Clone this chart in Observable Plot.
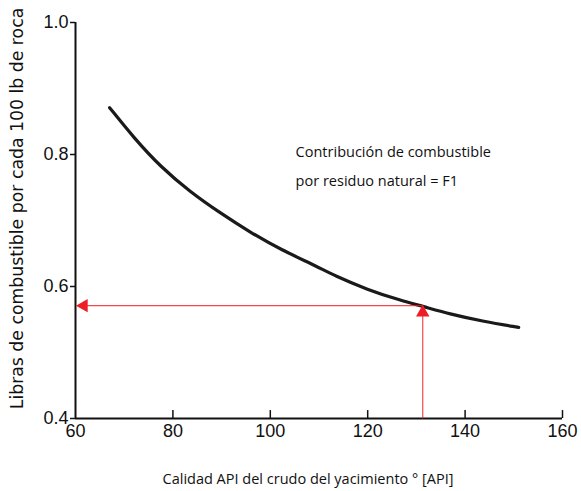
<!DOCTYPE html>
<html>
<head>
<meta charset="utf-8">
<script src="https://cdn.jsdelivr.net/npm/d3@7"></script>
<script src="https://cdn.jsdelivr.net/npm/@observablehq/plot@0.6"></script>
<style>
  html, body { margin: 0; padding: 0; background: #fff; }
  #chart svg { display: block; }
</style>
</head>
<body>
<div id="chart"></div>
<script>
// Curve
const api = [67.0, 71.9, 77.5, 83.6, 89.8, 95.9, 102.1, 109.7, 113.0, 120.0, 126.7, 131.3, 137.0, 143.8, 151.0];
const fuel = [0.871, 0.826, 0.781, 0.743, 0.711, 0.682, 0.656, 0.630, 0.617, 0.595, 0.579, 0.570, 0.558, 0.547, 0.538];

// Reading example (red arrows)
const readApi = [131.3];
const readFuel = [0.571];

const xTicks = [60, 80, 100, 120, 140, 160];
const yTicks = [0.4, 0.6, 0.8, 1.0];

const noteLines = ["Contribución de combustible", "por residuo natural = F1"];
const noteX = [105.2];
const noteY = [0.803, 0.760];

const xTitle = "Calidad API del crudo del yacimiento ° [API]";
const yTitle = "Libras de combustible por cada 100 lb de roca";

const curve = api.map((x, i) => ({x, y: fuel[i]}));
const reads = readApi.map((x, i) => ({x, y: readFuel[i]}));
const notes = noteLines.map((t, i) => ({t, x: noteX[0], y: noteY[i]}));

const red = "#ee1c24";
const tickFont = "'Liberation Sans Narrow', 'Arial Narrow', 'Liberation Sans', Arial, sans-serif";
const textFont = "'Open Sans', 'Noto Sans', sans-serif";

const plot = Plot.plot({
  width: 581,
  height: 491,
  marginLeft: 75,
  marginRight: 19,
  marginTop: 22,
  marginBottom: 73,
  style: {background: "#fff", fontFamily: tickFont, color: "#111"},
  x: {domain: [60, 160]},
  y: {domain: [0.4, 1.0]},
  marks: [
    // axes lines
    Plot.ruleX([60], {stroke: "#111", strokeWidth: 2}),
    Plot.ruleY([0.4], {stroke: "#111", strokeWidth: 2}),
    // y axis (ticks outward)
    Plot.axisY(yTicks, {
      tickSize: 5, tickPadding: 2, tickFormat: d3.format(".1f"),
      fontSize: 18, label: null, stroke: "#111", strokeWidth: 1.5
    }),
    // x axis labels
    Plot.axisX(xTicks, {tickSize: 0, tickPadding: 6, fontSize: 18, label: null}),
    // inward x ticks
    Plot.ruleX(xTicks.slice(1), {y1: 0.4, y2: 0.412, stroke: "#111", strokeWidth: 1.5}),
    // curve
    Plot.line(curve, {x: "x", y: "y", curve: "basis", stroke: "#1a1a1a", strokeWidth: 3.2}),
    // red reading lines
    Plot.link(reads, {x1: "x", y1: 0.4, x2: "x", y2: "y", stroke: red, strokeWidth: 1.2, strokeOpacity: 0.8}),
    Plot.link(reads, {x1: 60.4, y1: "y", x2: "x", y2: "y", stroke: red, strokeWidth: 1.2, strokeOpacity: 0.8}),
    Plot.dot(reads, {x: "x", y: "y", dy: 7, symbol: "triangle", r: 5, fill: red, stroke: "none"}),
    Plot.dot(reads, {x: 61.7, y: "y", symbol: "triangle", rotate: -90, r: 5, fill: red, stroke: "none"}),
    // annotation
    Plot.text(notes, {x: "x", y: "y", text: "t", textAnchor: "start", fontSize: 14.5,
      fontFamily: textFont, fill: "#111"}),
    // axis titles
    Plot.text([xTitle], {frameAnchor: "bottom", dy: 65, dx: -11, text: d => d, fontSize: 14.5,
      fontFamily: textFont, fill: "#111"}),
    Plot.text([yTitle], {frameAnchor: "left", textAnchor: "middle", dx: -58, dy: -12, rotate: -90,
      text: d => d, fontSize: 17.3, fontFamily: "'DejaVu Sans', Verdana, sans-serif", fill: "#111"})
  ]
});
document.getElementById("chart").appendChild(plot);
</script>
</body>
</html>
